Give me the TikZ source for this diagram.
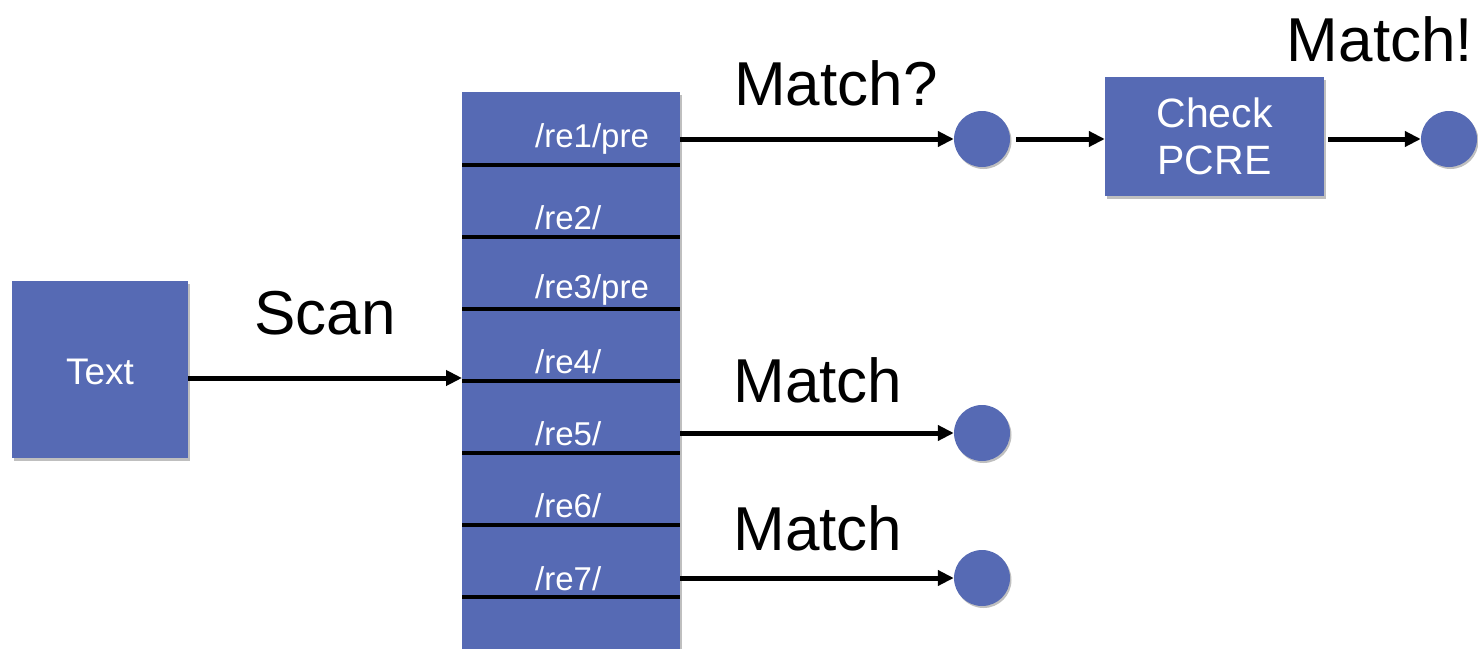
\documentclass[tikz,border=0pt]{standalone}
\usepackage{fontspec}
\setmainfont{Liberation Sans}
\usetikzlibrary{shadows,arrows.meta}
\definecolor{boxblue}{RGB}{86,106,180}
\tikzset{
  x=1pt,y=-1pt,
  bluebox/.style={fill=boxblue,draw=none,inner sep=0pt,
    drop shadow={shadow xshift=2pt,shadow yshift=-3pt,opacity=0.25,fill=black}},
  dot/.style={circle,fill=boxblue,draw=none,minimum size=56pt,inner sep=0pt,
    drop shadow={shadow xshift=1.5pt,shadow yshift=-2pt,opacity=0.25,fill=black}},
  rowlbl/.style={anchor=west,text=white,font=\fontsize{33}{36}\selectfont,inner sep=0pt},
  biglbl/.style={font=\fontsize{62}{66}\selectfont,inner sep=0pt},
  sepline/.style={line width=4pt,black},
  arr/.style={line width=5pt,-{Triangle[length=16pt,width=15pt]}},
}
\begin{document}
\begin{tikzpicture}
\useasboundingbox (0,0) rectangle (1478,648);

% input box
\node[bluebox,minimum width=176pt,minimum height=177pt] (text) at (100,369.5) {};
\node[text=white,font=\fontsize{37}{40}\selectfont] (textlbl) at (100,372) {Text};

% column of patterns
\node[bluebox,minimum width=218pt,minimum height=560pt,anchor=north west] (col) at (462,92) {};
\foreach \i/\y in {1/165,2/237,3/309,4/381,5/453,6/525,7/597}{
  \coordinate (s\i) at (462,\y);
  \draw[sepline] (s\i) -- (col.east |- s\i);
}
\node[rowlbl] (r1) at (535,139) {/re1/pre};
\node[rowlbl] (r2) at (535,218) {/re2/};
\node[rowlbl] (r3) at (535,290) {/re3/pre};
\node[rowlbl] (r4) at (535,362) {/re4/};
\node[rowlbl] (r5) at (535,434) {/re5/};
\node[rowlbl] (r6) at (535,506) {/re6/};
\node[rowlbl] (r7) at (535,579) {/re7/};

% matches
\node[dot] (m1) at (982,139) {};
\node[dot] (m5) at (982,433) {};
\node[dot] (m7) at (982,578) {};
\node[bluebox,minimum width=219pt,minimum height=119pt,text=white,align=center,
  font=\fontsize{41}{47}\selectfont] (pcre) at (1214.5,136.5) {Check\\PCRE};
\node[dot] (m2) at (1449,139) {};

% labels
\node[biglbl] (scan) at (325,313) {Scan};
\node[biglbl] (q) at (836,83) {Match?};
\node[biglbl] (ma5) at (818,380) {Match};
\node[biglbl] (ma7) at (818,528) {Match};
\node[biglbl] (ok) at (1380,39) {Match!};

% connectors
\draw[arr] (text.east) ++(0,8.5) coordinate (tx) -- (tx -| s4);
\draw[arr] (col.east |- m1) -- (m1);
\draw[arr] ([xshift=6pt]m1.east) -- (pcre.west |- m1);
\draw[arr] ([xshift=4pt]pcre.east |- m2) -- (m2);
\draw[arr] (col.east |- m5) -- (m5);
\draw[arr] (col.east |- m7) -- (m7);
\end{tikzpicture}
\end{document}
